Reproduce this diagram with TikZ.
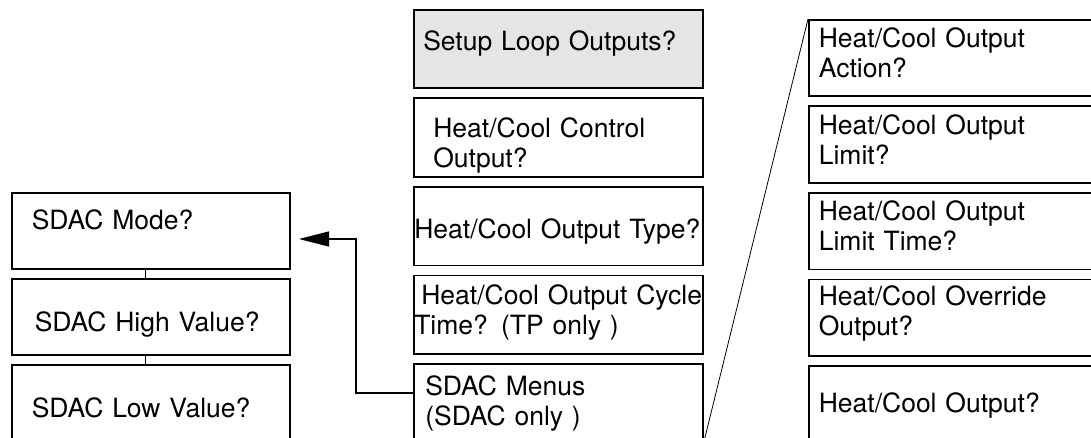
\documentclass[tikz,border=0pt]{standalone}
\usepackage{fontspec}
\setmainfont{TeX Gyre Heros}
\usepackage{xcolor}
\usepackage{tikz}
\usetikzlibrary{arrows.meta}
\usetikzlibrary{positioning}
\definecolor{boxgray}{gray}{0.9}

\begin{document}
\begin{tikzpicture}[
  x=1pt, y=-1pt,
  node distance=8.4pt,
  box/.style={draw, line width=1.6pt, align=left, anchor=north west, inner ysep=0pt, font=\fontsize{26.5}{30}\selectfont},
  leftbox/.style={box, text width=238pt, inner xsep=20pt, text height=#1, text depth=76pt-#1},
  midbox/.style={box, text width=288pt, inner xsep=0.5pt, text height=#1, text depth=78.5pt-#1},
  rightbox/.style={box, text width=320pt, inner xsep=10pt, text height=#1, text depth=76.5pt-#1}
]
\useasboundingbox (0,0) rectangle (1091,438);
\clip (0,0) rectangle (1091,438);

% left column
\node[leftbox=37pt] (mode) at (11,192) {SDAC Mode?};
\node[leftbox=53pt, below=of mode] (high) {\hspace*{3pt}SDAC High Value?};
\node[leftbox=53pt, below=of high] (low) {SDAC Low Value?};

% middle column
\node[midbox=41pt, fill=boxgray] (setup) at (413,9) {\hspace*{9pt}Setup Loop Outputs?};
\node[midbox=39pt, below=of setup] (ctrl) {\hspace*{19pt}Heat/Cool Control\\\hspace*{19pt}Output?};
\node[midbox=52pt, below=of ctrl] (otype) {\mbox{Heat/Cool Output Type?}};
\node[midbox=29pt, below=of otype] (cycle) {\hspace*{7pt}\mbox{Heat/Cool Output Cycle}\\Time? (TP only )};
\node[midbox=32pt, below=of cycle] (menus) {\hspace*{11pt}SDAC Menus\\\hspace*{11pt}(SDAC only )};

% right column
\node[rightbox=28pt] (action) at (808,19) {Heat/Cool Output\\Action?};
\node[rightbox=28pt, below=of action] (limit) {Heat/Cool Output\\Limit?};
\node[rightbox=28pt, below=of limit] (ltime) {Heat/Cool Output\\Limit Time?};
\node[rightbox=26pt, below=of ltime] (override) {Heat/Cool Override\\Output?};
\node[rightbox=47pt, below=of override] (hcout) {Heat/Cool Output?};

\draw[line width=1.3pt] ([xshift=-5pt]mode.south) -- ([xshift=-5pt]high.north);
\draw[line width=1.3pt] ([xshift=-5pt]high.south) -- ([xshift=-5pt]low.north);

\coordinate (tip) at (299,239);
\coordinate (bend) at (356,393);
\draw[line width=1.3pt, -{Triangle[length=30pt,width=15pt]}] (menus.west |- bend) -- (bend) -- (bend |- tip) -- (tip);

\draw[line width=0.8pt] (menus.south east) -- (action.north west);
\end{tikzpicture}
\end{document}
